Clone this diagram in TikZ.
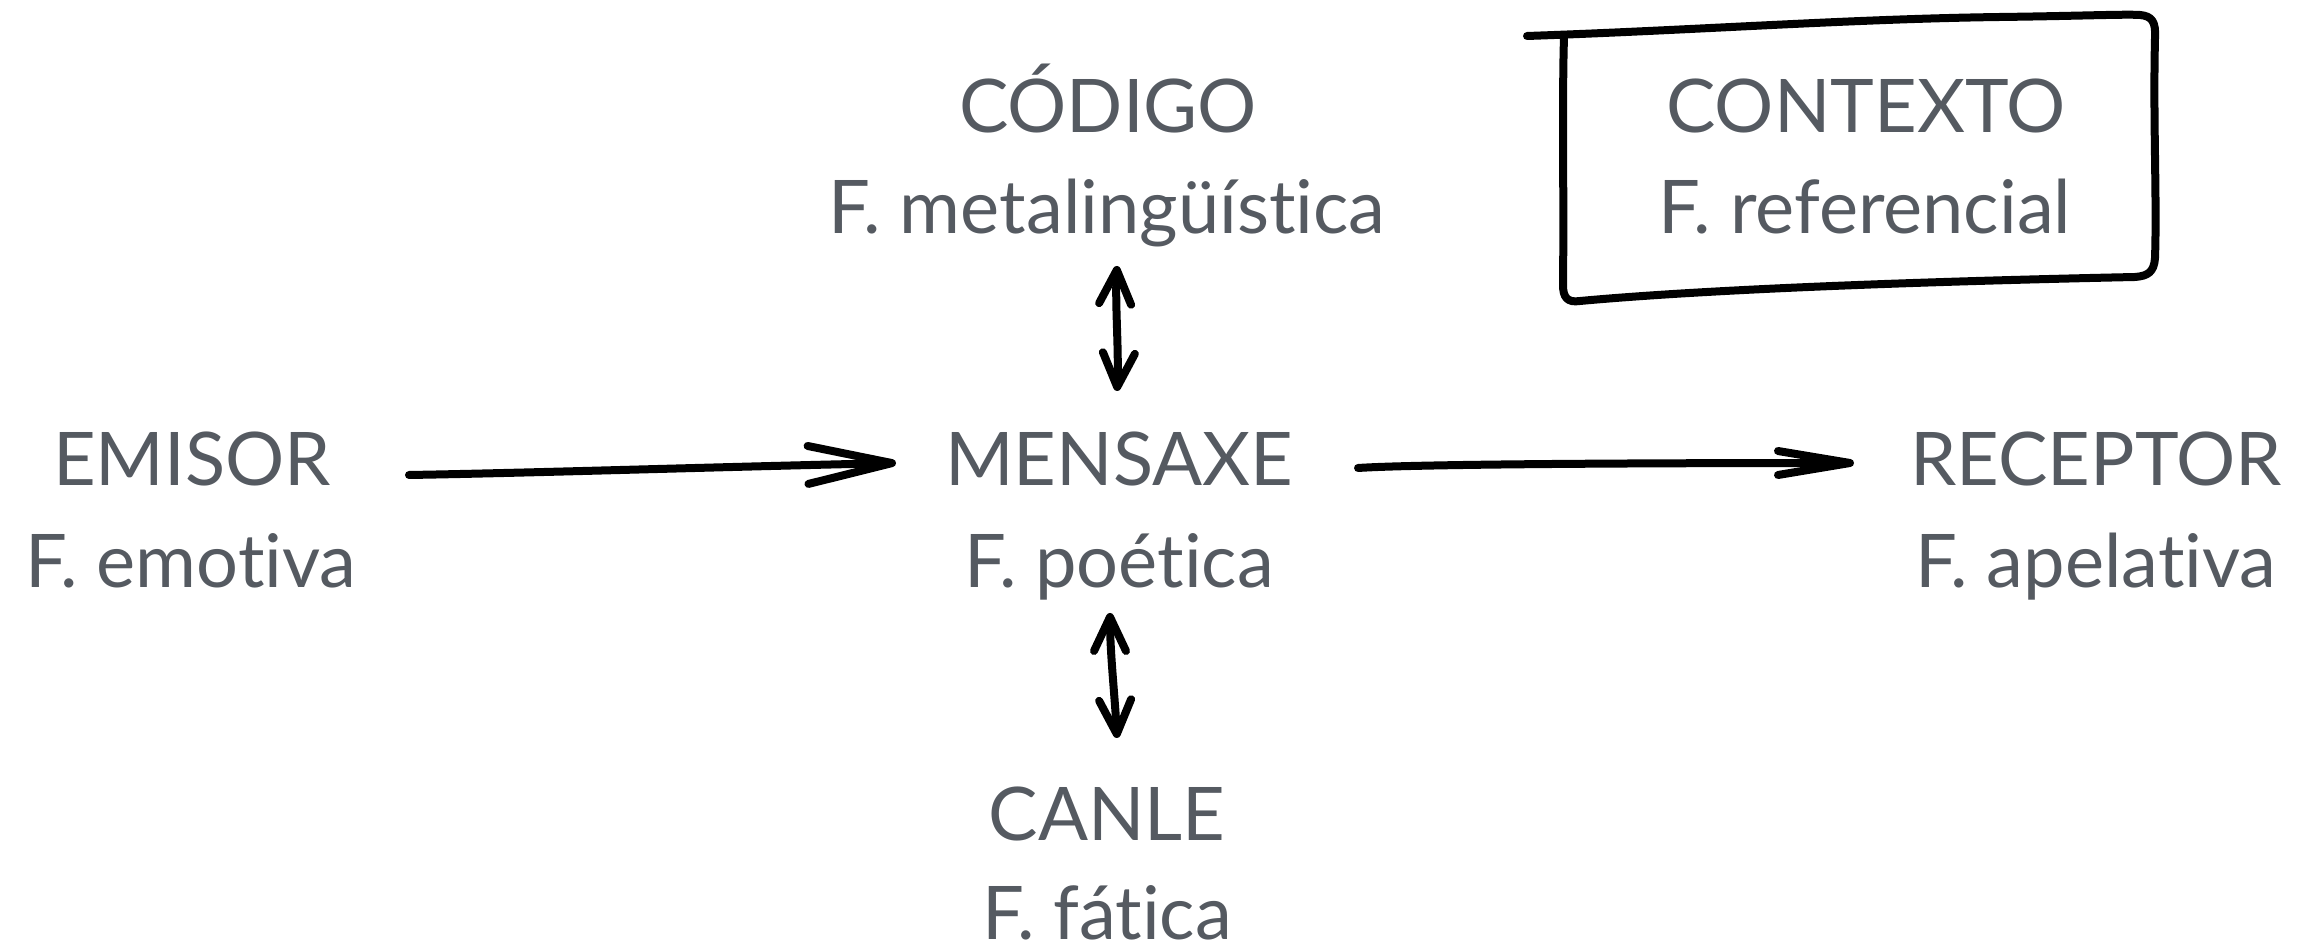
\documentclass[tikz,border=0pt]{standalone}
\usepackage{fontspec}
\setmainfont{Lato}[Ligatures={NoCommon}]
\usetikzlibrary{arrows.meta}
\definecolor{txtgray}{HTML}{555A61}
\tikzset{
  lbl/.style={inner sep=0pt, anchor=base, text=txtgray, font=\fontsize{37}{44}\selectfont},
  hand/.style={line width=4pt, line cap=round, line join=round, draw=black},
  bigbarb/.style={-{Straight Barb[length=42pt,width=19pt,line cap=round,line join=round]}},
  midbarb/.style={-{Straight Barb[length=36pt,width=12pt,line cap=round,line join=round]}},
  twobarb/.style={{Straight Barb[length=17pt,width=16pt,line cap=round,line join=round]}-{Straight Barb[length=17pt,width=16pt,line cap=round,line join=round]}},
}
\begin{document}
\begin{tikzpicture}[x=0.5pt,y=-0.5pt]
\useasboundingbox (0,0) rectangle (2314,945);
% labels
\node[lbl] (emisor)   at (192,486)  {EMISOR};
\node[lbl] (emisorf)  at (191,588)  {F. emotiva};
\node[lbl] (mensaxe)  at (1119,486) {MENSAXE};
\node[lbl] (mensaxef) at (1119,588) {F. poética};
\node[lbl] (receptor) at (2096,486) {RECEPTOR};
\node[lbl] (receptorf) at (2096,588) {F. apelativa};
\node[lbl] (codigo)   at (1108,133) {CÓDIGO};
\node[lbl] (codigof)  at (1107,234) {F. metalingüística};
\node[lbl] (contexto) at (1866,133) {CONTEXTO};
\node[lbl] (contextof) at (1865,234) {F. referencial};
\node[lbl] (canle)    at (1107,841) {CANLE};
\node[lbl] (canlef)   at (1107,939) {F. fática};
% hand-drawn box around CONTEXTO
\draw[hand] (1527,36) .. controls (1700,30) and (1850,19) .. (2000,17)
  .. controls (2080,16) and (2125,14) .. (2140,15)
  .. controls (2152,16) and (2156,22) .. (2155,38)
  .. controls (2153,120) and (2157,200) .. (2155,258)
  .. controls (2154,272) and (2148,276) .. (2135,277)
  .. controls (1900,282) and (1700,290) .. (1580,301)
  .. controls (1567,303) and (1563,297) .. (1563,285)
  .. controls (1564,200) and (1562,100) .. (1564,37);
% connectors
\draw[hand,bigbarb] ([shift={(217,-11)}]emisor.base)
  .. controls +(120,-2) and +(-180,4) .. ([shift={(-223,-23)}]mensaxe.base);
\draw[hand,midbarb] ([shift={(239,-18)}]mensaxe.base)
  .. controls +(60,-4) and +(-200,0) .. ([shift={(-242,-23)}]receptor.base);
\draw[hand,twobarb] ([shift={(10,32)}]codigof.base) .. controls +(-2,40) and +(2,-40) .. ([shift={(-2,-95)}]mensaxe.base);
\draw[hand,twobarb] ([shift={(-9,25)}]mensaxef.base) .. controls +(0,40) and +(-2,-40) .. ([shift={(10,-103)}]canle.base);
\end{tikzpicture}
\end{document}
